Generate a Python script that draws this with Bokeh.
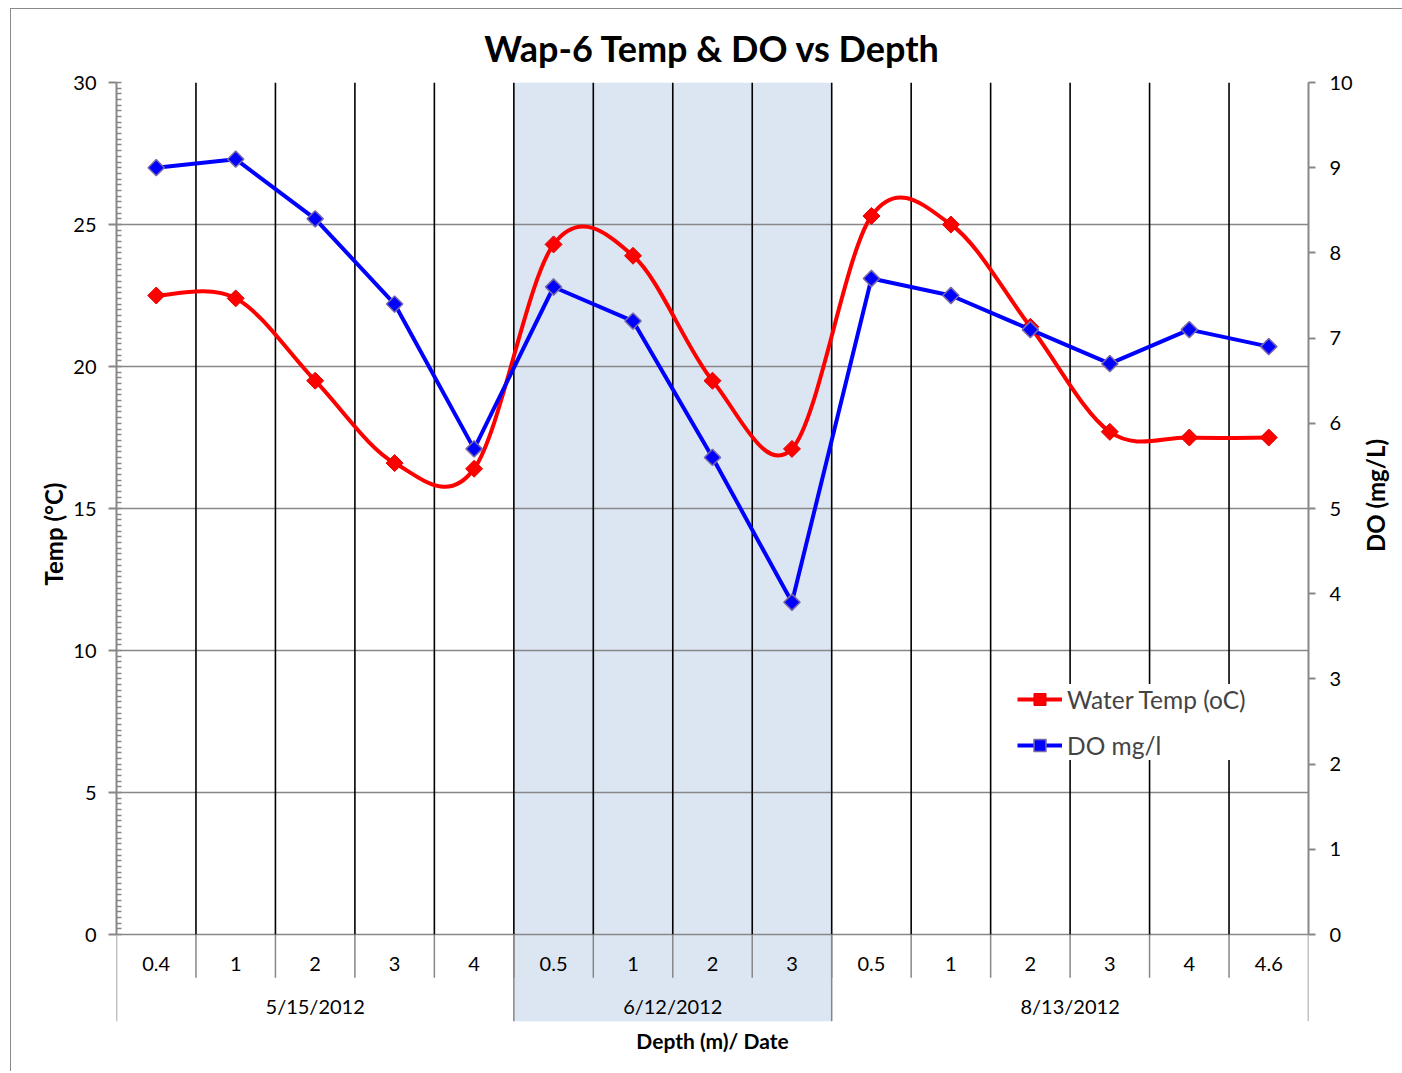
from bokeh.plotting import figure
from bokeh.models import Range1d, LinearAxis, SingleIntervalTicker, Legend, LegendItem, Title
from bokeh.embed import file_html
from bokeh.resources import INLINE
from bokeh.core.properties import value

# data
depths = ["0.4", "1", "2", "3", "4",
          "0.5", "1", "2", "3",
          "0.5", "1", "2", "3", "4", "4.6"]
dates = ["5/15/2012", "6/12/2012", "8/13/2012"]
date_counts = [5, 4, 6]
water_temp = [22.5, 22.4, 19.5, 16.6, 16.4,
              24.3, 23.9, 19.5, 17.1,
              25.3, 25.0, 21.4, 17.7, 17.5, 17.5]
do_mg_l = [9.0, 9.1, 8.4, 7.4, 5.7,
           7.6, 7.2, 5.6, 3.9,
           7.7, 7.5, 7.1, 6.7, 7.1, 6.9]

FONT = "Lato"
GRAY = "#878787"
TEMP_MAX = 30
DO_MAX = 10
BAND = 3.06  # room under the value axis for the category labels (temp units)

n = len(depths)
xs = [i + 0.5 for i in range(n)]

p = figure(x_range=Range1d(0, n), y_range=Range1d(-BAND, TEMP_MAX),
           frame_width=1192, frame_height=939,
           min_border_left=105, min_border_right=86,
           min_border_top=73, min_border_bottom=50,
           title="Wap-6 Temp & DO vs Depth",
           output_backend="svg", toolbar_location=None)
p.styles = {"border-left": "1px solid #8a8a8a", "border-top": "1px solid #8a8a8a",
            "margin-left": "10px", "margin-top": "8px"}
p.extra_y_ranges = {"do": Range1d(-BAND * DO_MAX / TEMP_MAX, DO_MAX)}
p.outline_line_color = None
p.background_fill_color = "white"

p.title.align = "center"
p.title.text_font = FONT
p.title.text_font_size = "36px"
p.title.text_font_style = "bold"
p.title.text_color = "black"
p.title.standoff = 26

# left axis
ya = p.yaxis[0]
ya.ticker = SingleIntervalTicker(interval=5, num_minor_ticks=25)
ya.bounds = (0, TEMP_MAX)
ya.major_label_text_font = FONT
ya.major_label_text_font_size = "20px"
ya.major_label_text_color = "black"
ya.major_label_standoff = 12
ya.axis_line_color = GRAY
ya.axis_line_width = 2
ya.major_tick_line_color = GRAY
ya.major_tick_line_width = 2
ya.major_tick_out = 8
ya.major_tick_in = 0
ya.minor_tick_line_color = GRAY
ya.minor_tick_line_width = 1.5
ya.minor_tick_in = 5
ya.minor_tick_out = 0

# left axis title, centred on the value axis rather than the whole frame
p.add_layout(Title(text="Temp (°C)", align="left", offset=436, vertical_align="middle",
                   text_font=FONT, text_font_size="24px", text_font_style="bold",
                   text_color="black", standoff=4), "left")

# right axis
ra = LinearAxis(y_range_name="do", ticker=SingleIntervalTicker(interval=1),
                bounds=(0, DO_MAX), axis_label="DO (mg/L)")
ra.axis_label_orientation = 1.5708
ra.axis_label_text_font = FONT
ra.axis_label_text_font_size = "24px"
ra.axis_label_text_font_style = "bold"
ra.axis_label_text_color = "black"
ra.axis_label_standoff = 20
ra.major_label_text_font = FONT
ra.major_label_text_font_size = "20px"
ra.major_label_text_color = "black"
ra.major_label_standoff = 14
ra.axis_line_color = GRAY
ra.axis_line_width = 2
ra.major_tick_line_color = GRAY
ra.major_tick_line_width = 2
ra.major_tick_out = 7
ra.major_tick_in = 0
ra.minor_tick_line_color = None
p.add_layout(ra, "right")

# bottom axis only carries the title
xa = p.xaxis[0]
xa.axis_label = "Depth (m)/ Date"
xa.axis_label_text_font = FONT
xa.axis_label_text_font_size = "21px"
xa.axis_label_text_font_style = "bold"
xa.axis_label_text_color = "black"
xa.axis_label_standoff = 0
xa.axis_line_color = None
xa.major_tick_line_color = None
xa.minor_tick_line_color = None
xa.major_label_text_font_size = "1px"
xa.major_label_text_color = None
xa.major_label_standoff = 0

p.xgrid.grid_line_color = None
p.ygrid.ticker = SingleIntervalTicker(interval=5)
p.ygrid.bounds = (0, TEMP_MAX)
p.ygrid.grid_line_color = GRAY
p.ygrid.grid_line_width = 1.5

# group boundaries and shading of the middle date
starts = [sum(date_counts[:k]) for k in range(len(dates))]
ends = [s + c for s, c in zip(starts, date_counts)]
p.quad(left=[starts[1]], right=[ends[1]], bottom=[-BAND], top=[TEMP_MAX],
       fill_color="#dce6f2", line_color=None, level="underlay")

inner = list(range(1, n))
p.segment(x0=inner, x1=inner, y0=[0] * len(inner), y1=[TEMP_MAX] * len(inner),
          line_color="black", line_width=1.6)
p.segment(x0=inner, x1=inner, y0=[0] * len(inner), y1=[-1.52] * len(inner),
          line_color=GRAY, line_width=1.5)
edges = [0] + ends
p.segment(x0=edges, x1=edges, y0=[0] * len(edges), y1=[-BAND] * len(edges),
          line_color=GRAY, line_width=1.5)

p.text(x=xs, y=[-1.02] * n, text=depths, text_align="center", text_baseline="middle",
       text_font=value(FONT), text_font_size="20px", text_color="black")
p.text(x=[(s + e) / 2 for s, e in zip(starts, ends)], y=[-2.5] * len(dates), text=dates,
       text_align="center", text_baseline="middle",
       text_font=value(FONT), text_font_size="20px", text_color="black")

# smoothed temperature curve (Catmull-Rom style beziers through the points)
x0, y0, x1, y1, cx0, cy0, cx1, cy1 = [], [], [], [], [], [], [], []
for i in range(n - 1):
    a = max(i - 1, 0)
    d = min(i + 2, n - 1)
    x0.append(xs[i]); y0.append(water_temp[i])
    x1.append(xs[i + 1]); y1.append(water_temp[i + 1])
    cx0.append(xs[i] + (xs[i + 1] - xs[a]) / 6)
    cy0.append(water_temp[i] + (water_temp[i + 1] - water_temp[a]) / 6)
    cx1.append(xs[i + 1] - (xs[d] - xs[i]) / 6)
    cy1.append(water_temp[i + 1] - (water_temp[d] - water_temp[i]) / 6)
temp_curve = p.bezier(x0=x0, y0=y0, x1=x1, y1=y1, cx0=cx0, cy0=cy0, cx1=cx1, cy1=cy1,
                      line_color="#ff0000", line_width=4)
temp_pts = p.scatter(xs, water_temp, marker="square", size=12, angle=0.785398,
                     fill_color="#ff0000", line_color="#e00000", line_width=1)

do_line = p.line(xs, do_mg_l, y_range_name="do", line_color="#0000ff", line_width=4,
                 line_join="round")
do_pts = p.scatter(xs, do_mg_l, y_range_name="do", marker="square", size=11.5,
                   angle=0.785398, fill_color="#0000ff", line_color="#7a6aa8",
                   line_width=1.5)

legend = Legend(items=[LegendItem(label="Water Temp (oC)", renderers=[temp_curve, temp_pts]),
                       LegendItem(label="DO mg/l", renderers=[do_line, do_pts])],
                location=(901, 261))
legend.border_line_color = None
legend.background_fill_color = "white"
legend.background_fill_alpha = 1
legend.label_text_font = FONT
legend.label_text_font_size = "24.5px"
legend.glyph_width = 45
legend.glyph_height = 30
legend.label_height = 30
legend.label_standoff = 5
legend.spacing = 16
legend.padding = 10
legend.margin = 0
p.add_layout(legend)

open("out.html", "w").write(file_html(p, INLINE))
